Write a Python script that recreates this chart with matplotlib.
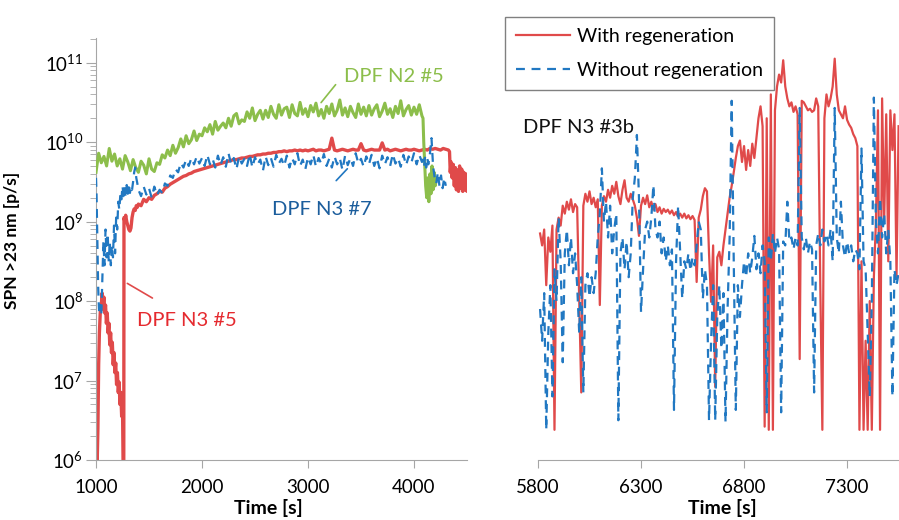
import numpy as np
import matplotlib
matplotlib.use('Agg')
import matplotlib.pyplot as plt
from matplotlib.lines import Line2D

plt.rcParams['font.family'] = 'Lato'

# ---- left panel: log10 of SPN >23 nm [p/s] ----
n2_5_t = np.concatenate([np.arange(1000, 4100, 25),
                         [4085, 4092, 4100, 4110, 4120, 4130, 4140, 4150, 4160, 4170, 4180, 4190, 4200, 4210]])
n2_5_log = [9.62, 9.86, 9.74, 9.82, 9.70, 9.92, 9.76, 9.85,
            9.70, 9.79, 9.66, 9.83, 9.75, 9.64, 9.78, 9.68,
            9.62, 9.76, 9.71, 9.60, 9.79, 9.66, 9.63, 9.74,
            9.72, 9.84, 9.80, 9.90, 9.83, 9.96, 9.86, 9.93,
            10.04, 9.94, 10.08, 9.98, 10.03, 10.14, 10.02, 10.10,
            10.08, 10.18, 10.13, 10.22, 10.10, 10.26, 10.15, 10.20,
            10.24, 10.18, 10.30, 10.20, 10.33, 10.36, 10.23, 10.28,
            10.26, 10.38, 10.30, 10.43, 10.27, 10.35, 10.40, 10.29,
            10.40, 10.31, 10.45, 10.35, 10.30, 10.47, 10.34, 10.42,
            10.44, 10.31, 10.47, 10.36, 10.33, 10.50, 10.35, 10.42,
            10.32, 10.46, 10.38, 10.49, 10.33, 10.41, 10.30, 10.45,
            10.36, 10.48, 10.33, 10.40, 10.53, 10.34, 10.43, 10.32,
            10.45, 10.37, 10.31, 10.48, 10.35, 10.44, 10.33, 10.46,
            10.34, 10.42, 10.47, 10.32, 10.39, 10.49, 10.35, 10.42,
            10.31, 10.45, 10.36, 10.52, 10.33, 10.41, 10.46, 10.34,
            10.44, 10.35, 10.47, 10.33,
            10.30, 10.00, 9.75, 9.45, 9.30, 9.55, 9.25, 9.60, 9.35, 9.70, 9.40, 9.62, 9.45, 9.55]

n3_7_t = np.concatenate([[1000, 1005, 1010, 1015, 1020, 1025, 1030, 1040, 1050, 1060,
                          1070, 1080, 1090, 1100, 1110, 1120, 1130, 1140, 1150, 1160,
                          1170, 1180, 1190, 1200, 1210, 1220, 1230, 1240, 1250, 1260,
                          1270, 1280, 1290, 1300, 1310, 1320, 1330, 1340, 1350, 1360,
                          1370, 1380, 1390],
                         np.arange(1400, 4100, 25),
                         [4085, 4095, 4105, 4115, 4125, 4135, 4150, 4165, 4180, 4195,
                          4210, 4225, 4240, 4255, 4270, 4285, 4300]])
n3_7_log = [9.55, 9.35, 9.0, 8.6, 8.2, 8.0, 7.85, 7.95, 7.82, 8.3,
            8.75, 8.45, 8.9, 8.55, 8.85, 8.5, 8.75, 8.45, 8.7, 8.55,
            8.95, 8.6, 9.05, 8.9, 9.25, 9.15, 9.35, 9.28, 9.45, 9.32,
            9.42, 9.3, 9.46, 9.35, 9.48, 9.36, 9.44, 9.4, 9.5, 9.62,
            9.68, 9.55, 9.48,
            9.40, 9.32, 9.44, 9.34, 9.42, 9.30, 9.44, 9.33,
            9.40, 9.36, 9.48, 9.45, 9.58, 9.55, 9.66, 9.62,
            9.74, 9.68, 9.78, 9.70, 9.80, 9.72, 9.82, 9.73,
            9.80, 9.70, 9.84, 9.72, 9.79, 9.68, 9.83, 9.71,
            9.81, 9.69, 9.86, 9.72, 9.80, 9.66, 9.82, 9.73,
            9.79, 9.70, 9.85, 9.68, 9.81, 9.72, 9.78, 9.64,
            9.82, 9.71, 9.80, 9.69, 9.84, 9.73, 9.79, 9.70,
            9.83, 9.68, 9.80, 9.72, 9.86, 9.70, 9.78, 9.66,
            9.81, 9.72, 9.84, 9.69, 9.80, 9.73, 9.85, 9.70,
            9.79, 9.68, 9.82, 9.72, 9.80, 9.65, 9.83, 9.71,
            9.80, 9.70, 9.86, 9.73, 9.79, 9.69, 9.82, 9.72,
            9.84, 9.70, 9.80, 9.67, 9.83, 9.72, 9.81, 9.70,
            9.85, 9.73, 9.80, 9.69, 9.84, 9.71, 9.82, 9.74,
            9.86, 9.72, 9.84, 9.75,
            9.78, 9.70, 9.82, 9.68, 9.80, 9.72, 9.85, 10.05, 9.70, 9.55,
            9.48, 9.62, 9.45, 9.58, 9.42, 9.55, 9.45]

n3_5_t = np.concatenate([[1000, 1005, 1010, 1018, 1025, 1032, 1040, 1050, 1058, 1066,
                          1074, 1082, 1090, 1098, 1106, 1114, 1122, 1130, 1138, 1146,
                          1154, 1162, 1170, 1178, 1186, 1194, 1202, 1210, 1218, 1226,
                          1234, 1242, 1250, 1256, 1262, 1264, 1272, 1280, 1290, 1300,
                          1310, 1320, 1330, 1340, 1350, 1360, 1370, 1380, 1390],
                         np.arange(1400, 4350, 25),
                         [4335, 4342, 4350, 4360, 4370, 4380, 4390, 4400, 4410, 4420,
                          4430, 4440, 4450, 4460, 4470, 4480, 4490, 4500, 4510]])
n3_5_log = [6.12, 6.05, 5.9, 6.4, 7.2, 7.6, 7.85, 7.95, 8.1, 7.9,
            8.05, 7.85, 7.95, 7.72, 7.85, 7.6, 7.72, 7.45, 7.6, 7.35,
            7.48, 7.2, 7.35, 7.1, 7.22, 6.95, 7.1, 6.85, 6.98, 6.7,
            6.85, 6.55, 6.7, 5.9, 5.9, 9.05, 9.0, 9.08, 9.0, 8.95,
            8.9, 8.88, 8.92, 9.05, 9.12, 9.16, 9.14, 9.2, 9.18,
            9.22, 9.20, 9.28, 9.25, 9.30, 9.28, 9.33, 9.35,
            9.38, 9.37, 9.42, 9.44, 9.47, 9.49, 9.51, 9.53,
            9.55, 9.57, 9.58, 9.60, 9.61, 9.63, 9.64, 9.65,
            9.66, 9.67, 9.68, 9.69, 9.70, 9.71, 9.72, 9.73,
            9.74, 9.75, 9.76, 9.77, 9.78, 9.78, 9.79, 9.80,
            9.80, 9.81, 9.82, 9.82, 9.83, 9.84, 9.84, 9.85,
            9.85, 9.86, 9.86, 9.87, 9.87, 9.88, 9.88, 9.89,
            9.88, 9.89, 9.89, 9.90, 9.89, 9.90, 9.89, 9.90,
            9.89, 9.90, 9.91, 9.89, 9.90, 9.90, 9.89, 9.90,
            9.91, 10.05, 9.90, 9.89, 9.90, 9.91, 9.90, 9.89,
            9.90, 9.91, 9.90, 9.90, 9.98, 9.90, 9.89, 9.90,
            9.91, 9.90, 9.90, 9.90, 9.99, 9.90, 9.91, 9.89,
            9.90, 9.91, 9.90, 9.89, 9.90, 9.91, 9.90, 9.90,
            9.91, 9.90, 9.89, 9.90, 9.91, 9.90, 9.92, 9.91,
            9.92, 9.91, 9.90, 9.92, 9.91, 9.90,
            9.88, 9.62, 9.75, 9.55, 9.72, 9.45, 9.68, 9.40, 9.65, 9.38,
            9.70, 9.42, 9.66, 9.38, 9.62, 9.40, 9.60, 9.38, 9.55]

# ---- right panel: DPF N3 #3b, with / without regeneration ----
n3_3b_t = np.arange(5810, 7560, 10)
regen_log = [8.85, 8.70, 8.90, 8.20, 8.80, 8.62, 8.95, 6.38, 8.90, 9.05,
             8.95, 9.20, 9.10, 9.25, 9.15, 9.28, 9.12, 9.22, 9.18, 8.00,
             6.85, 9.20, 9.35, 9.25, 9.38, 9.22, 9.30, 9.18, 9.28, 7.95,
             9.20, 9.32, 9.25, 9.40, 9.30, 9.45, 9.35, 9.50, 9.32, 9.22,
             9.40, 9.52, 9.30, 9.25, 9.35, 9.28, 9.20, 9.05, 8.82, 9.20,
             9.30, 9.22, 9.33, 9.18, 9.25, 9.15, 9.22, 9.12, 9.18, 9.10,
             9.16, 9.12, 9.15, 9.10, 9.14, 9.08, 9.12, 9.06, 9.10, 9.05,
             9.10, 9.04, 9.08, 9.03, 9.07, 9.02, 8.24, 9.05, 9.15, 9.32,
             9.42, 9.38, 8.60, 7.99, 8.70, 6.92, 8.55, 8.62, 8.45, 8.70,
             8.90, 9.10, 9.30, 9.45, 9.62, 9.80, 9.95, 10.02, 9.75, 9.95,
             9.65, 9.90, 9.70, 9.98, 9.80, 10.05, 10.30, 10.45, 10.20, 6.42,
             10.30, 6.38, 10.60, 6.38, 10.40, 10.70, 10.85, 10.75, 11.03, 10.70,
             10.55, 10.45, 10.50, 10.38, 10.45, 10.35, 7.27, 10.52, 10.50, 10.45,
             10.40, 10.42, 10.38, 10.40, 10.55, 10.45, 8.20, 6.38, 10.30, 10.60,
             10.45, 10.55, 10.70, 11.05, 10.60, 10.40, 10.35, 10.30, 10.45, 10.28,
             10.22, 10.18, 10.10, 10.05, 9.95, 6.38, 8.50, 6.38, 7.50, 6.38,
             8.00, 6.38, 8.30, 9.00, 10.40, 6.38, 10.55, 9.00, 10.35, 8.50,
             10.40, 9.90, 10.35, 8.30, 10.20]
no_regen_log = [7.90, 7.50, 8.10, 6.38, 7.60, 8.20, 6.80, 8.40, 8.00, 9.05,
                8.50, 7.23, 8.60, 8.90, 8.45, 8.80, 8.35, 8.60, 8.20, 7.60,
                8.30, 6.85, 8.20, 8.35, 8.05, 8.30, 8.10, 8.35, 8.80, 9.10,
                9.67, 9.00, 9.25, 8.80, 9.20, 8.60, 8.90, 9.10, 6.50, 8.60,
                8.80, 8.40, 8.75, 8.30, 8.60, 9.30, 9.55, 10.09, 9.30, 7.86,
                8.40, 8.90, 9.00, 8.80, 9.05, 9.46, 8.90, 8.80, 9.00, 8.60,
                8.80, 8.50, 8.70, 8.45, 8.65, 6.63, 8.50, 9.20, 8.60, 8.03,
                8.50, 8.40, 8.60, 8.38, 8.55, 8.45, 8.70, 9.00, 8.90, 8.03,
                8.40, 8.20, 6.50, 7.50, 8.20, 6.50, 7.80, 8.20, 7.40, 8.10,
                6.48, 7.90, 8.80, 10.52, 8.50, 6.63, 8.20, 7.80, 8.20, 8.50,
                8.30, 8.60, 8.35, 8.55, 8.82, 8.40, 8.60, 8.35, 8.70, 8.50,
                6.60, 8.80, 8.50, 8.85, 8.60, 8.80, 8.65, 6.60, 8.75, 8.70,
                9.25, 8.75, 8.80, 8.65, 8.80, 8.70, 10.43, 8.80, 8.65, 8.80,
                8.60, 8.75, 8.65, 6.85, 8.70, 8.85, 8.70, 8.90, 8.75, 8.85,
                8.70, 8.90, 8.50, 10.43, 8.80, 8.60, 9.25, 8.70, 8.55, 8.75,
                8.60, 8.70, 8.50, 8.65, 8.60, 8.40, 9.92, 8.50, 8.40, 7.60,
                6.80, 8.00, 10.56, 9.00, 8.60, 9.30, 8.80, 9.10, 8.60, 8.90,
                8.50, 6.80, 8.40, 8.20, 8.35]

left_ticks = [1000, 2000, 3000, 4000]
right_ticks = [5800, 6300, 6800, 7300]
legend_labels = ['With regeneration', 'Without regeneration']

# colours
red = '#e04a4a'
blue = '#2178c2'
green = '#8cbe4b'
grey = '#a6a6a6'
dash = (4, 3)

W, H = 899, 520
fig = plt.figure(figsize=(W / 100, H / 100), dpi=100)
ax1 = fig.add_axes([96 / W, 60 / H, 371 / W, 422 / H])
ax2 = fig.add_axes([538 / W, 60 / H, 361 / W, 422 / H])

ax1.plot(n3_5_t, 10 ** np.array(n3_5_log), color=red, lw=2.4, zorder=2)
ax1.plot(n2_5_t, 10 ** np.array(n2_5_log), color=green, lw=2.2, zorder=3)
ax1.plot(n3_7_t, 10 ** np.array(n3_7_log), color=blue, lw=1.6, dashes=dash, zorder=4)

ax2.plot(n3_3b_t, 10 ** np.array(regen_log), color=red, lw=1.6, zorder=2)
ax2.plot(n3_3b_t, 10 ** np.array(no_regen_log), color=blue, lw=1.6, dashes=dash, zorder=3)

ylim = (1e6, 10 ** 11.31)
for ax in (ax1, ax2):
    ax.set_yscale('log')
    ax.set_ylim(*ylim)
    for s in ('top', 'right'):
        ax.spines[s].set_visible(False)
    ax.spines['bottom'].set_color(grey)
    ax.spines['left'].set_color(grey)
    ax.tick_params(which='both', color=grey, direction='out', labelsize=13.5)
    ax.tick_params(axis='x', length=6, pad=8)
    ax.set_xlabel('Time [s]', fontsize=14, fontweight='bold')

ax1.set_xlim(1000, 4500)
ax1.set_xticks(left_ticks)
ax1.tick_params(axis='y', which='major', length=7, pad=2)
ax1.tick_params(axis='y', which='minor', length=4)
ax1.set_ylabel('SPN >23 nm [p/s]', fontsize=12.5, fontweight='bold')
ax1.yaxis.set_label_coords(-0.205, 0.52)
ax1.xaxis.set_label_coords(0.464, -0.092)

ax2.set_xlim(5800, 7552)
ax2.set_xticks(right_ticks)
ax2.spines['left'].set_visible(False)
ax2.tick_params(axis='y', which='both', left=False, labelleft=False)
ax2.xaxis.set_label_coords(0.51, -0.092)

# series labels with leader lines
ax1.text(3342, 10 ** 10.82, 'DPF N2 #5', color=green, fontsize=14.5, va='center')
ax1.annotate('', xy=(3107, 10 ** 10.47), xytext=(3277, 10 ** 10.75),
             arrowprops=dict(arrowstyle='-', color=green, lw=1.2))
ax1.text(2656, 10 ** 9.15, 'DPF N3 #7', color='#1b5d9c', fontsize=14.5, va='center')
ax1.annotate('', xy=(3248, 10 ** 9.49), xytext=(3389, 10 ** 9.69),
             arrowprops=dict(arrowstyle='-', color=blue, lw=1.2))
ax1.text(1386, 10 ** 7.76, 'DPF N3 #5', color='#e52a2f', fontsize=14.5, va='center')
ax1.annotate('', xy=(1555, 10 ** 8.02), xytext=(1273, 10 ** 8.24),
             arrowprops=dict(arrowstyle='-', color=red, lw=1.2))
ax2.text(5727, 10 ** 10.19, 'DPF N3 #3b', color='#111111', fontsize=14.5,
         va='center', clip_on=False)

handles = [Line2D([], [], color=red, lw=1.6),
           Line2D([], [], color=blue, lw=1.6, dashes=dash)]
leg = ax2.legend(handles, legend_labels, loc='upper left',
                 bbox_to_anchor=(505 / W, 1 - 17 / H), bbox_transform=fig.transFigure,
                 borderaxespad=0, fontsize=14, handlelength=2.8, handletextpad=0.35,
                 labelspacing=0.9, borderpad=0.55, fancybox=False, framealpha=1)
leg.get_frame().set_edgecolor('#808080')
leg.get_frame().set_linewidth(1.0)

fig.savefig('out.png', dpi=100)
